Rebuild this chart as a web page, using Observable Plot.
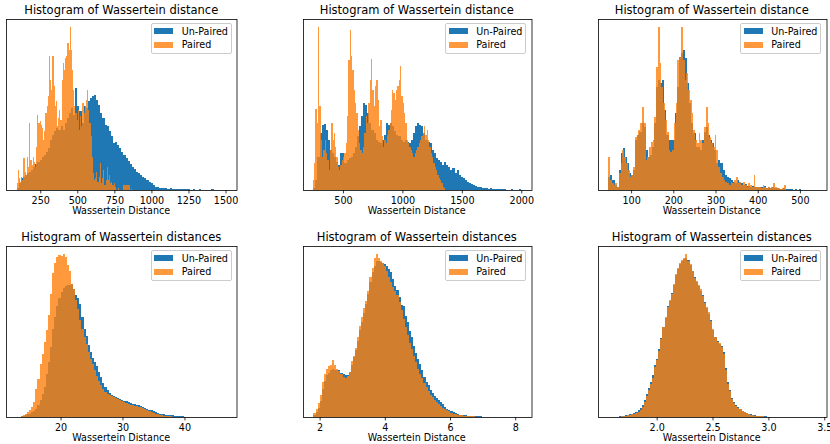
<!DOCTYPE html>
<html><head><meta charset="utf-8">
<script src="https://cdn.jsdelivr.net/npm/d3@7"></script>
<script src="https://cdn.jsdelivr.net/npm/@observablehq/plot@0.6"></script>
<style>
body{margin:0;background:#fff;}
#fig{position:relative;width:830px;height:444px;font-family:"DejaVu Sans",sans-serif;color:#000;overflow:hidden;}
.t{position:absolute;white-space:nowrap;line-height:1;}
.lg{position:absolute;box-sizing:border-box;border:0.8px solid #cccccc;border-radius:2px;background:rgba(255,255,255,0.8);}
.pt{position:absolute;}
svg{overflow:visible;}
</style></head><body><div id="fig"></div>
<script>
// ---- Data (bar heights, arbitrary count units) ----
const titlesTop = "Histogram of Wassertein distance";
const titlesBottom = "Histogram of Wassertein distances";
const xLabel = "Wassertein Distance";
const seriesNames = ["Un-Paired", "Paired"];

// Panel 1
const p1Ticks = [250, 500, 750, 1000, 1250, 1500];
const p1UnpairedRange = [90, 1504];
const p1Unpaired = [5,20,35,40,45,50,55,60,70,78,
85,90,100,105,115,125,150,165,175,185,
178,190,180,200,215,230,245,225,305,250,
235,200,250,245,265,275,282,285,270,255,
230,215,195,190,175,160,140,145,135,125,
115,105,95,88,78,70,62,55,50,45,
40,35,30,25,22,15,10,8,7,6,
5,6,4,5,3,4,3,4,2,3,
3,2,2,1,2,1,1,2,1,0,
1,1,0,2,0,0,1,0,0,1];
const p1PairedRange = [90, 870];
const p1Paired = [20,60,35,25,40,30,95,55,45,100,
70,200,90,75,100,85,70,130,225,200,
205,195,185,150,175,230,250,280,400,330,
300,400,310,250,265,190,215,240,210,330,
380,360,395,400,440,420,487,420,360,300,
250,230,210,240,180,220,190,260,230,250,
270,300,240,200,160,100,50,30,35,55,
25,40,80,20,35,60,15,30,70,30,
45,20,25,15,20,10,0,0,5,0,
0,0,15,15,15,15,15,15,0,3];

// Panel 2
const p2Ticks = [500, 1000, 1500, 2000];
const p2UnpairedRange = [251, 1998];
const p2Unpaired = [5,30,100,170,195,197,180,150,120,110,
100,85,75,110,110,80,90,95,100,110,
130,160,190,220,260,255,230,200,180,170,
150,145,140,150,165,200,195,200,190,175,
165,160,150,145,150,145,140,150,170,190,
200,195,190,170,150,145,140,120,110,95,
90,85,75,85,75,70,60,65,50,60,
45,40,35,30,25,22,18,15,12,10,
8,7,5,6,4,5,3,4,3,2,
2,3,2,1,1,2,0,1,0,2];
const p2PairedRange = [245, 1360];
const p2Paired = [30,80,242,200,487,250,150,100,120,150,
110,90,60,120,200,150,170,130,100,70,
60,75,90,100,110,140,220,390,477,400,
360,300,260,230,180,140,120,110,130,170,
220,200,260,330,392,300,250,310,330,270,
190,210,160,130,150,140,165,180,200,240,
300,290,270,300,310,330,372,280,260,230,
200,150,140,130,120,110,100,110,120,130,
140,150,160,170,190,165,180,150,130,110,
100,80,70,60,45,35,30,20,10,5];

// Panel 3
const p3Ticks = [100, 200, 300, 400, 500];
const p3UnpairedRange = [46, 538];
const p3Unpaired = [40,45,30,15,10,60,110,125,100,80,
50,45,60,150,165,175,200,190,120,100,
105,130,200,310,330,320,330,240,165,150,
150,150,230,310,400,410,420,395,320,260,
200,170,130,130,120,150,175,190,165,150,
140,120,80,90,80,60,45,40,35,30,
25,20,30,25,20,15,18,12,10,12,
8,10,8,10,8,12,6,8,5,10,
5,6,4,3,5,3,4,2,2,1,
2,1,2,0,1,1,0,0,0,1];
const p3PairedRange = [46, 466];
const p3Paired = [100,30,20,15,20,10,50,80,120,100,
80,60,40,45,70,160,165,180,200,250,
200,90,100,130,145,150,220,370,488,380,
310,260,210,175,120,115,120,200,260,390,
400,488,390,330,350,300,270,230,180,150,
140,170,150,140,190,250,200,160,140,130,
165,120,70,50,40,30,25,20,15,25,
20,30,40,20,25,15,25,15,10,20,
15,10,45,10,8,10,5,15,8,5,
10,5,8,20,10,5,5,3,5,15];

// Panel 4
const p4Ticks = [20, 30, 40];
const p4Range = [12.9, 46.7];
const p4Unpaired = [0,1,2,4,6,8,10,14,18,24,
35,50,68,90,128,165,210,265,300,333,
358,375,386,393,395,396,400,385,365,356,
340,300,265,242,215,195,178,165,152,135,
120,102,90,80,71,67,64,61,58,55,
51,49,47,45,42,40,39,37,36,34,
31,28,25,22,20,17,14,12,10,9,
8,7,6,6,5,4,4,3,2,2,
1,1,1,0,1,0,0,0,0,0,
0,0,0,0,0,0,0,0,0,1];
const p4Paired = [0,1,4,6,9,14,20,30,45,85,
115,160,190,225,260,305,370,430,460,478,
485,482,488,480,455,437,400,385,350,325,
290,265,240,218,195,175,160,140,122,108,
96,84,74,68,66,62,59,56,53,50,
47,44,41,39,37,36,34,33,31,29,
26,23,20,17,15,13,10,8,7,5,
4,3,3,2,1,1,0,0,0,0,
0,0,0,0,0,0,0,0,0,0,
0,0,0,0,0,0,0,0,0,0];

// Panel 5
const p5Ticks = [2, 4, 6, 8];
const p5Range = [1.81, 8.18];
const p5Unpaired = [6,15,28,48,85,108,125,133,140,145,
140,140,140,133,128,125,126,135,157,180,
203,230,262,285,312,340,370,405,435,455,
468,470,467,463,460,455,445,435,415,395,
383,360,338,335,305,285,258,240,215,192,
175,158,140,120,105,95,80,72,63,56,
50,44,38,30,25,22,18,15,12,10,
7,6,5,5,4,4,3,3,2,2,
2,1,1,1,1,0,0,0,0,0,
0,0,0,0,0,0,0,0,0,1];
const p5Paired = [12,25,42,65,105,128,145,152,155,172,
155,145,137,128,120,116,122,135,168,185,
208,240,275,300,328,350,380,420,448,478,
490,478,470,462,453,440,420,405,390,378,
368,345,322,295,272,247,222,205,183,165,
145,128,116,102,89,77,65,59,52,46,
40,34,27,23,20,17,13,10,8,7,
5,5,4,4,3,3,2,2,1,1,
1,0,0,0,0,0,0,0,0,0,
0,0,0,0,0,0,0,0,0,0];

// Panel 6
const p6Ticks = [2.0, 2.5, 3.0, 3.5];
const p6Range = [1.568, 3.43];
const p6Unpaired = [0,0,0,1,1,2,3,4,5,6,
8,10,12,16,20,26,35,50,68,88,
106,125,155,175,205,238,270,298,335,350,
372,398,428,445,460,470,475,478,472,458,
440,420,405,395,380,368,345,328,310,292,
262,242,230,220,215,195,148,105,82,58,
45,36,29,24,19,15,12,10,8,6,
5,4,3,3,2,2,1,1,1,1,
0,0,0,0,0,0,0,0,0,0,
0,0,0,0,0,0,0,0,0,1];
const p6Paired = [0,0,0,0,0,1,2,3,4,5,
6,8,10,13,16,22,30,45,62,82,
100,118,150,170,200,235,270,300,330,352,
370,400,430,448,462,473,477,490,470,460,
440,418,410,398,385,365,342,330,315,290,
265,240,226,222,212,190,140,100,78,55,
42,34,28,23,18,14,11,9,7,5,
4,3,3,2,2,1,1,1,1,0,
0,0,0,0,0,0,0,0,0,0,
0,0,0,0,0,0,0,0,0,0];

// ---- Layout ----
const BLUE = "#1f77b4", ORANGE = "#ff7f0e";
const rowY = [[18.5, 189.5], [245.5, 416.5]];
const colX = [[6, 236.5], [302.5, 531], [597.5, 826]];

const panels = [
  {title: titlesTop, row: 0, col: 0, domain: [19, 1574], ticks: p1Ticks, fmt: d => String(d),
   un: {range: p1UnpairedRange, c: p1Unpaired}, pa: {range: p1PairedRange, c: p1Paired}},
  {title: titlesTop, row: 0, col: 1, domain: [164, 2086], ticks: p2Ticks, fmt: d => String(d),
   un: {range: p2UnpairedRange, c: p2Unpaired}, pa: {range: p2PairedRange, c: p2Paired}},
  {title: titlesTop, row: 0, col: 2, domain: [21.6, 563], ticks: p3Ticks, fmt: d => String(d),
   un: {range: p3UnpairedRange, c: p3Unpaired}, pa: {range: p3PairedRange, c: p3Paired}},
  {title: titlesBottom, row: 1, col: 0, domain: [11.2, 48.4], ticks: p4Ticks, fmt: d => String(d),
   un: {range: p4Range, c: p4Unpaired}, pa: {range: p4Range, c: p4Paired}},
  {title: titlesBottom, row: 1, col: 1, domain: [1.49, 8.5], ticks: p5Ticks, fmt: d => String(d),
   un: {range: p5Range, c: p5Unpaired}, pa: {range: p5Range, c: p5Paired}},
  {title: titlesBottom, row: 1, col: 2, domain: [1.475, 3.52], ticks: p6Ticks, fmt: d => d.toFixed(1),
   un: {range: p6Range, c: p6Unpaired}, pa: {range: p6Range, c: p6Paired}}
];

function bins(s) {
  const n = s.c.length, w = (s.range[1] - s.range[0]) / n;
  return s.c.map((v, i) => ({x1: s.range[0] + i * w, x2: s.range[0] + (i + 1) * w, y: v}));
}

const fig = document.getElementById("fig");
function addText(txt, left, top, size, center) {
  const d = document.createElement("div");
  d.className = "t";
  d.textContent = txt;
  d.style.left = left + "px";
  d.style.top = top + "px";
  d.style.fontSize = size + "px";
  if (center) d.style.transform = "translateX(-50%)";
  fig.appendChild(d);
  return d;
}

const ml = 2, mr = 2, mt = 2, mb = 18;
for (const p of panels) {
  const [fx0, fx1] = colX[p.col];
  const [fy0, fy1] = rowY[p.row];
  const fw = fx1 - fx0, fh = fy1 - fy0;
  const ymax = Math.max(d3.max(p.un.c), d3.max(p.pa.c)) * 1.05;
  const chart = Plot.plot({
    width: fw + ml + mr, height: fh + mt + mb,
    marginLeft: ml, marginRight: mr, marginTop: mt, marginBottom: mb,
    style: {fontFamily: "DejaVu Sans", fontSize: "9.6px", color: "#000", background: "transparent", overflow: "visible"},
    x: {domain: p.domain},
    y: {domain: [0, ymax], axis: null},
    marks: [
      Plot.rectY(bins(p.un), {x1: "x1", x2: "x2", y: "y", fill: BLUE, shapeRendering: "crispEdges"}),
      Plot.rectY(bins(p.pa), {x1: "x1", x2: "x2", y: "y", fill: ORANGE, fillOpacity: 0.8, shapeRendering: "crispEdges"}),
      Plot.frame({stroke: "#000", strokeWidth: 0.8}),
      Plot.axisX({ticks: p.ticks, tickFormat: p.fmt, tickSize: 3.4, tickPadding: 3.2, label: null,
                  stroke: "#000", strokeWidth: 0.8, fill: "#000", fontSize: 9.6})
    ]
  });
  chart.style.position = "absolute";
  chart.style.left = (fx0 - ml) + "px";
  chart.style.top = (fy0 - mt) + "px";
  fig.appendChild(chart);

  // title & x label
  addText(p.title, (fx0 + fx1) / 2, fy0 - 3.5 - 9.73, 11.5, true);
  addText(xLabel, (fx0 + fx1) / 2, fy1 + 24.5 - 8.12, 9.6, true);

  // legend
  const bw = 81, bh = 30.7;
  const bl = fx1 - 4.8 - bw, bt = fy0 + 4.8;
  const box = document.createElement("div");
  box.className = "lg";
  box.style.left = bl + "px"; box.style.top = bt + "px";
  box.style.width = bw + "px"; box.style.height = bh + "px";
  fig.appendChild(box);
  [[BLUE, 1, 4.4, 11.4], [ORANGE, 0.8, 18.4, 25.2]].forEach(([col, op, pt, bl2], k) => {
    const sw = document.createElement("div");
    sw.className = "pt";
    sw.style.left = (bl + 3.3) + "px"; sw.style.top = (bt + pt) + "px";
    sw.style.width = "19.3px"; sw.style.height = "6.7px";
    sw.style.background = col; sw.style.opacity = op;
    fig.appendChild(sw);
    addText(seriesNames[k], bl + 31, bt + bl2 - 8.12, 9.6, false);
  });
}
</script>
</body></html>
